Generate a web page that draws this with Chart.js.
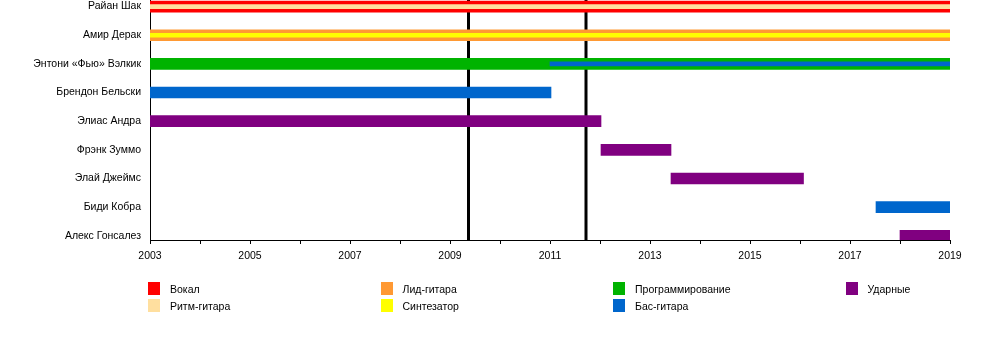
<!DOCTYPE html>
<html>
<head>
<meta charset="utf-8">
<script src="https://cdn.jsdelivr.net/npm/chart.js@4"></script>
<style>
  body { margin: 0; background: #fff; }
  #wrap { position: relative; width: 1000px; height: 340px; }
  #legend { position: absolute; left: 0; top: 0; width: 1000px; height: 340px; font-family: "Liberation Sans", Arial, sans-serif; font-size: 10.5px; color: #000; }
  .item { position: absolute; height: 13px; line-height: 13px; white-space: nowrap; }
  .item span.box { position: absolute; left: 0; top: 0; width: 12px; height: 13px; }
  .item span.txt { position: absolute; left: 22px; top: 1px; }
</style>
</head>
<body>
<div id="wrap">
  <canvas id="myChart" width="1000" height="340"></canvas>
  <div id="legend"></div>
</div>
<script>
var members = ["Райан Шак", "Амир Дерак", "Энтони «Фью» Вэлкик", "Брендон Бельски", "Элиас Андра",
  "Фрэнк Зуммо", "Элай Джеймс", "Биди Кобра", "Алекс Гонсалез"]

// segments: [start, end, member row]
var vocals = [[2003, 2019, 0]]
var rhythmGuitar = [[2003, 2019, 0]]
var leadGuitar = [[2003, 2019, 1]]
var synth = [[2003, 2019, 1]]
var programming = [[2003, 2019, 2]]
var bass = [[2003, 2011.02, 3], [2017.52, 2019, 7]]
var bassStripe = [[2011, 2019, 2]]
var drums = [[2003, 2012.02, 4], [2012.02, 2013.42, 5], [2013.42, 2016.07, 6], [2018, 2019, 8]]

var albums = [2009.37, 2011.72]
var tickYears = [2003, 2005, 2007, 2009, 2011, 2013, 2015, 2017, 2019]

var legendItems = [
  ["Вокал", "#ff0000"], ["Ритм-гитара", "#ffdf9f"],
  ["Лид-гитара", "#ff9933"], ["Синтезатор", "#ffff00"],
  ["Программирование", "#00b300"], ["Бас-гитара", "#0066cc"],
  ["Ударные", "#800080"]
]

var yMin = -0.23
var yMax = 8.147

function toBars(segs) {
  return segs.map(function(s) { return {x: [s[0], s[1]], y: s[2]} })
}

function barSet(label, segs, color, thick, order) {
  return {
    type: "bar",
    label: label,
    data: toBars(segs),
    backgroundColor: color,
    borderWidth: 0,
    barThickness: thick,
    grouped: false,
    order: order
  }
}

var datasets = [
  barSet("Вокал", vocals, "#ff0000", 11, 1),
  barSet("Ритм-гитара", rhythmGuitar, "#ffdf9f", 4, 0),
  barSet("Лид-гитара", leadGuitar, "#ff9933", 11, 1),
  barSet("Синтезатор", synth, "#ffff00", 4, 0),
  barSet("Программирование", programming, "#00b300", 11, 1),
  barSet("Бас-гитара", bass, "#0066cc", 11, 1),
  barSet("Бас-гитара (2)", bassStripe, "#0066cc", 4, 0),
  barSet("Ударные", drums, "#800080", 11, 1)
]

// album release lines, behind the bars
albums.forEach(function(a) {
  datasets.push({
    type: "line",
    label: "album",
    data: [{x: a, y: yMin}, {x: a, y: yMax}],
    borderColor: "#000",
    borderWidth: 3,
    pointRadius: 0,
    fill: false,
    order: 5
  })
})

Chart.defaults.font.family = '"Liberation Sans", Arial, sans-serif'
Chart.defaults.font.size = 10.5
Chart.defaults.color = "#000"

var ctx = document.getElementById("myChart").getContext("2d")
var chart = new Chart(ctx, {
  type: "bar",
  data: { datasets: datasets },
  options: {
    indexAxis: "y",
    responsive: false,
    animation: false,
    layout: { padding: { left: 0, right: 50, top: 0, bottom: 70 } },
    plugins: { legend: { display: false }, tooltip: { enabled: false } },
    scales: {
      x: {
        type: "linear",
        min: 2003,
        max: 2019,
        offset: false,
        afterFit: function(scale) { scale.height = 30 },
        ticks: {
          stepSize: 1,
          autoSkip: false,
          maxRotation: 0,
          padding: 6,
          callback: function(v) { return tickYears.indexOf(v) >= 0 ? String(v) : "" }
        },
        grid: { drawOnChartArea: false, drawTicks: true, tickLength: 4, color: "#000", lineWidth: 1, offset: false },
        border: { display: true, color: "#000", width: 1 }
      },
      y: {
        type: "linear",
        reverse: true,
        min: yMin,
        max: yMax,
        offset: false,
        afterFit: function(scale) {
          scale.width = 150
          scale.paddingTop = 0
          scale.paddingBottom = 0
        },
        ticks: {
          stepSize: 1,
          includeBounds: false,
          autoSkip: false,
          padding: 9,
          callback: function(v) { return members[v] !== undefined ? members[v] : "" }
        },
        grid: { drawOnChartArea: false, drawTicks: false, offset: false },
        border: { display: true, color: "#000", width: 1 }
      }
    }
  }
})

// legend in 4 columns, 2 rows
var legend = document.getElementById("legend")
legendItems.forEach(function(it, i) {
  var col = Math.floor(i / 2)
  var row = i % 2
  var div = document.createElement("div")
  div.className = "item"
  div.style.left = (148 + col * 232.5) + "px"
  div.style.top = (282 + row * 16.5) + "px"
  div.innerHTML = '<span class="box" style="background:' + it[1] + '"></span><span class="txt">' + it[0] + '</span>'
  legend.appendChild(div)
})
</script>
</body>
</html>
